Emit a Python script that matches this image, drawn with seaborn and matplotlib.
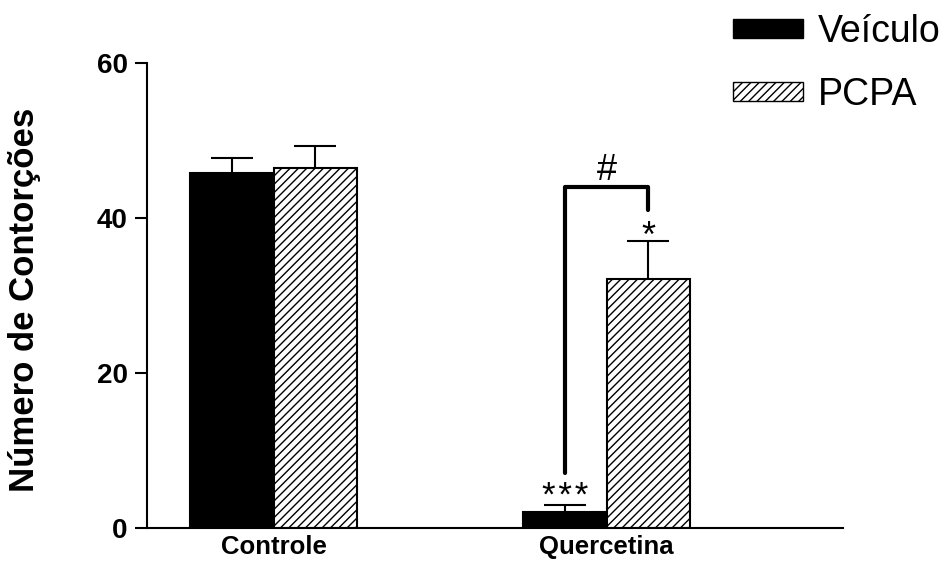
import pandas as pd
import seaborn as sns
import matplotlib.pyplot as plt
from matplotlib.patches import Patch

grupos = ['Controle', 'Controle', 'Quercetina', 'Quercetina']
tratamentos = ['Veículo', 'PCPA', 'Veículo', 'PCPA']
medias = [45.8, 46.5, 2.1, 32.1]
erros = [1.9, 2.8, 0.9, 4.9]

sns.set_style('ticks')
plt.rcParams['font.family'] = ['Liberation Sans', 'DejaVu Sans']
plt.rcParams['hatch.linewidth'] = 1.0
plt.rcParams['text.color'] = 'black'
plt.rcParams['xtick.color'] = 'black'
plt.rcParams['ytick.color'] = 'black'
plt.rcParams['axes.labelcolor'] = 'black'
plt.rcParams['axes.edgecolor'] = 'black'

df = pd.DataFrame({'grupo': grupos, 'tratamento': tratamentos, 'media': medias})

fig = plt.figure(figsize=(9.43, 5.66), dpi=100)
ax = fig.add_axes([147 / 943, 1 - 528 / 566, (843 - 147) / 943, (528 - 63) / 566])

sns.barplot(data=df, x='grupo', y='media', hue='tratamento',
            hue_order=['Veículo', 'PCPA'], palette=['black', 'white'],
            errorbar=None, width=0.5, edgecolor='black', linewidth=1.5,
            legend=False, ax=ax)

barras = sorted(ax.patches, key=lambda p: p.get_x())
for p, t in zip(barras, tratamentos):
    if t == 'PCPA':
        p.set_hatch('////')
    p.set_zorder(2)

# erro so para cima
centros = []
for p, m, e in zip(barras, medias, erros):
    cx = p.get_x() + p.get_width() / 2
    centros.append(cx)
    ax.vlines(cx, m, m + e, color='black', lw=1.5, zorder=1)
    ax.hlines(m + e, cx - p.get_width() / 4, cx + p.get_width() / 4,
              color='black', lw=1.5, zorder=1)

# colchete #
x1, x2 = centros[2], centros[3]
ax.plot([x1, x1, x2, x2], [7.1, 44.0, 44.0, 41.0], color='black', lw=3,
        solid_joinstyle='round', solid_capstyle='round', clip_on=False)
ax.text((x1 + x2) / 2, 44.9, '#', ha='center', va='baseline', fontsize=26)
ax.text(x2, 36.2, '*', ha='center', va='baseline', fontsize=26)
ax.text(x1, 2.8, '*\u200a*\u200a*', ha='center', va='baseline', fontsize=25)

ax.set_ylim(0, 60)
ax.set_xlim(-0.38, 1.71)
ax.set_yticks([0, 20, 40, 60])
ax.set_xlabel('')
ax.set_ylabel('Número de Contorções', fontsize=25, fontweight='bold')
ax.yaxis.set_label_coords(-0.152, 0.49)
ax.tick_params(axis='y', length=9, width=1.5, labelsize=20, pad=5)
ax.tick_params(axis='x', length=0, labelsize=18.5, pad=5)
for lab in ax.get_xticklabels() + ax.get_yticklabels():
    lab.set_fontweight('bold')
sns.despine(ax=ax)
for s in ['left', 'bottom']:
    ax.spines[s].set_linewidth(1.5)

handles = [Patch(facecolor='black', edgecolor='black', label='Veículo'),
           Patch(facecolor='white', edgecolor='black', hatch='////', label='PCPA')]
fig.legend(handles=handles, loc='upper left', bbox_to_anchor=(733 / 943, 1 - 14 / 566),
           frameon=False, fontsize=27, handlelength=1.87, handleheight=0.4,
           handletextpad=0.4, labelspacing=0.72, borderpad=0, borderaxespad=0)

fig.savefig('out.png', dpi=100)
